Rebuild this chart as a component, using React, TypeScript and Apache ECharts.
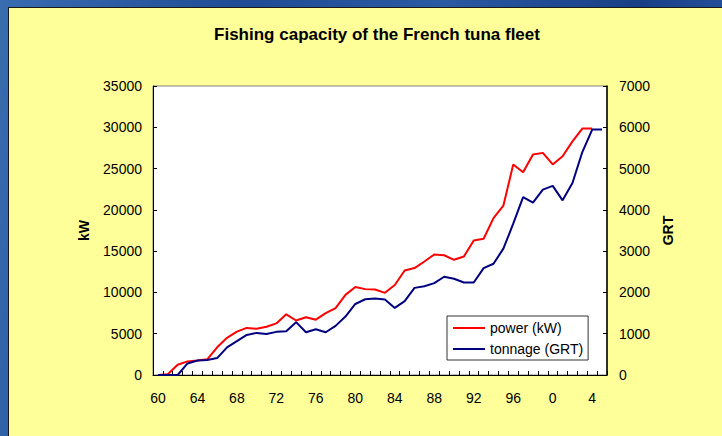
import React, { useEffect, useRef } from "react";
import * as echarts from "echarts";

const years: number[] = [];
for (let y = 1960; y <= 2005; y++) years.push(y);

const powerKW: (number | null)[] = [
  0, 100, 1250, 1650, 1750, 1900, 3350, 4500, 5250, 5700,
  5600, 5850, 6250, 7350, 6600, 7000, 6700, 7500, 8100, 9700,
  10650, 10400, 10350, 9950, 10900, 12650, 12950, 13750, 14600, 14500,
  13950, 14350, 16300, 16500, 19000, 20500, 25500, 24550, 26700, 26900,
  25500, 26500, 28300, 29850, 29850, null,
];

const tonnageGRT: number[] = [
  0, 0, 0, 280, 350, 365, 410, 670, 820, 970,
  1020, 995, 1045, 1060, 1280, 1035, 1110, 1035, 1190, 1415,
  1720, 1835, 1850, 1830, 1625, 1790, 2110, 2150, 2225, 2380,
  2330, 2240, 2240, 2590, 2695, 3060, 3665, 4310, 4175, 4490,
  4580, 4230, 4650, 5400, 5945, 5945,
];

const titleText = "Fishing capacity of the French tuna fleet";
const seriesNames = ["power (kW)", "tonnage (GRT)"];

export default function App() {
  const ref = useRef<HTMLDivElement>(null);

  useEffect(() => {
    if (!ref.current) return;
    const chart = echarts.init(ref.current, null, { renderer: "svg" });
    const font = "Liberation Sans, Arial, sans-serif";
    const plain = (v: number) => String(v);
    chart.setOption({
      animation: false,
      backgroundColor: "transparent",
      textStyle: { fontFamily: font },
      title: {
        text: titleText,
        left: 372,
        top: 21,
        textAlign: "center",
        textStyle: { fontSize: 17, fontWeight: "bold", color: "#000", fontFamily: font },
      },
      grid: {
        left: 153,
        right: 115,
        top: 86,
        bottom: 61,
        show: true,
        backgroundColor: "#ffffff",
        borderColor: "#808080",
        borderWidth: 1,
      },
      legend: {
        orient: "vertical",
        left: 447,
        top: 316,
        backgroundColor: "#ffffff",
        borderColor: "#333333",
        borderWidth: 1,
        padding: [5, 5, 4, 6],
        itemGap: 7,
        itemWidth: 32,
        itemHeight: 2,
        itemTextGap: 4,
        icon: "rect",
        textStyle: { fontSize: 14, color: "#000", fontFamily: font },
        data: seriesNames,
      },
      xAxis: {
        type: "category",
        data: years,
        boundaryGap: true,
        axisLine: { lineStyle: { color: "#000", width: 1 } },
        axisTick: { show: true, inside: true, length: 4, interval: 0, lineStyle: { color: "#000" } },
        axisLabel: {
          interval: 3,
          margin: 16,
          fontSize: 14,
          color: "#000",
          fontFamily: font,
          formatter: (v: string) => String(Number(v) % 100),
        },
        splitLine: { show: false },
      },
      yAxis: [
        {
          type: "value",
          min: 0,
          max: 35000,
          interval: 5000,
          position: "left",
          name: "kW",
          nameLocation: "middle",
          nameGap: 62,
          nameRotate: 90,
          nameTextStyle: { fontSize: 14, fontWeight: "bold", color: "#000", fontFamily: font },
          axisLine: { show: true, lineStyle: { color: "#000", width: 1 } },
          axisTick: { show: true, inside: true, length: 4, lineStyle: { color: "#000" } },
          axisLabel: { margin: 11, fontSize: 14, color: "#000", fontFamily: font, formatter: plain },
          splitLine: { show: false },
        },
        {
          type: "value",
          min: 0,
          max: 7000,
          interval: 1000,
          position: "right",
          name: "GRT",
          nameLocation: "middle",
          nameGap: 53,
          nameRotate: 90,
          nameTextStyle: { fontSize: 14, fontWeight: "bold", color: "#000", fontFamily: font },
          axisLine: { show: true, lineStyle: { color: "#000", width: 1.5 } },
          axisTick: { show: true, inside: true, length: 4, lineStyle: { color: "#000" } },
          axisLabel: { margin: 12, fontSize: 14, color: "#000", fontFamily: font, formatter: plain },
          splitLine: { show: false },
        },
      ],
      series: [
        {
          name: seriesNames[0],
          type: "line",
          yAxisIndex: 0,
          data: powerKW,
          symbol: "none",
          lineStyle: { color: "#ff0000", width: 2 },
          itemStyle: { color: "#ff0000" },
        },
        {
          name: seriesNames[1],
          type: "line",
          yAxisIndex: 1,
          data: tonnageGRT,
          symbol: "none",
          lineStyle: { color: "#000080", width: 2 },
          itemStyle: { color: "#000080" },
        },
      ],
    });
    return () => chart.dispose();
  }, []);

  return (
    <div
      style={{
        position: "absolute",
        left: 0,
        top: 0,
        width: 722,
        height: 436,
        overflow: "hidden",
        background:
          "linear-gradient(100deg, #3a6cb0 0%, #1f4c94 30%, #2a5aa2 55%, #183f86 80%, #2d5ea8 100%)",
      }}
    >
      <div
        style={{
          position: "absolute",
          left: 8,
          top: 7,
          width: 720,
          height: 435,
          background: "#ffff99",
          border: "1px solid #1a1a1a",
          boxSizing: "border-box",
        }}
      />
      <div ref={ref} style={{ position: "absolute", left: 0, top: 0, width: 722, height: 436 }} />
    </div>
  );
}
